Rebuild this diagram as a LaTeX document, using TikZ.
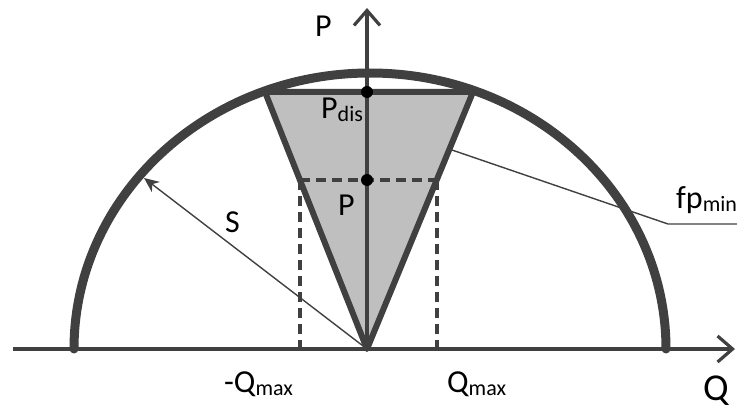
\documentclass[tikz,border=0pt]{standalone}
\usepackage{fontspec}
\setmainfont{Carlito}
\usetikzlibrary{arrows.meta}
\newcommand{\lowtxt}[1]{\raisebox{-3.5pt}{\fontsize{22}{25}\selectfont #1}}
\definecolor{dk}{RGB}{64,64,64}
\definecolor{fillg}{RGB}{191,191,191}
\begin{document}
\begin{tikzpicture}[x=1pt,y=-1pt,
  lbl/.style={anchor=base west, inner sep=0pt, text=black, font=\fontsize{32}{38}\selectfont},
  axis/.style={draw=dk, line width=3.2pt, -{Straight Barb[length=15pt,width=26pt,line width=3.2pt]}},
  thinline/.style={draw=dk, line width=1.4pt},
  dashline/.style={draw=dk, line width=3.2pt, dash pattern=on 10pt off 6pt},
  thick/.style={draw=dk, line width=6pt, line join=round},
  dot/.style={circle, fill=black, inner sep=0pt, minimum size=12pt}]
\useasboundingbox (0,0) rectangle (737,412);
\clip (0,0) rectangle (737,412);
\coordinate (O) at (367,349);
\coordinate (TL) at (265,92);
\coordinate (TR) at (473,92);
\coordinate (Qs) at (13,349);
\coordinate (Qe) at (735,349);
\coordinate (Pe) at (367,8);
\coordinate (DL) at (300,180);
\coordinate (DR) at (437,180);
\coordinate (DLb) at (300,349);
\coordinate (DRb) at (437,349);
\coordinate (Sa) at (144,178);
\coordinate (FP) at (452,150);
\coordinate (FK) at (668,224);
\coordinate (FE) at (745,224);
\coordinate (AL) at (74,349);
% shaded region
\fill[fillg] (O) -- (TL) -- (TR) -- cycle;
% axes
\draw[axis] (Qs) -- (Qe);
\draw[axis] (O) -- (Pe);
% dashed construction lines
\draw[dashline] (DL) -- (DR);
\draw[dashline] (DL) -- (DLb);
\draw[dashline] (DR) -- (DRb);
% triangle outline
\draw[thick] (TL) -- (O) -- (TR) -- cycle;
% S radius
\draw[thinline, -{Stealth[length=15pt,width=13pt]}] (O) -- (Sa);
% fp_min leader
\draw[thinline] (FP) -- (FK) -- (FE);
% capability arc
\draw[draw=dk, line width=9pt, line cap=round] (AL) arc[start angle=180, end angle=360, x radius=296, y radius=276];
% dots
\node[dot] (pdis) at (367,92) {};
\node[dot] (pp) at (367,180) {};
% labels
\node[lbl] (lP) at (315,37) {P};
\node[lbl] (lPdis) at (321,118) {P\lowtxt{dis}};
\node[lbl] (lPp) at (338,215) {P};
\node[lbl] (lS) at (225,232) {S};
\node[lbl] (lQm) at (224,392) {-Q\lowtxt{max}};
\node[lbl] (lQp) at (447,392) {Q\lowtxt{max}};
\node[lbl, font=\fontsize{38}{44}\selectfont] (lQ) at (703,400) {Q};
\node[lbl] (lfp) at (676,208) {fp\lowtxt{min}};
\end{tikzpicture}
\end{document}
